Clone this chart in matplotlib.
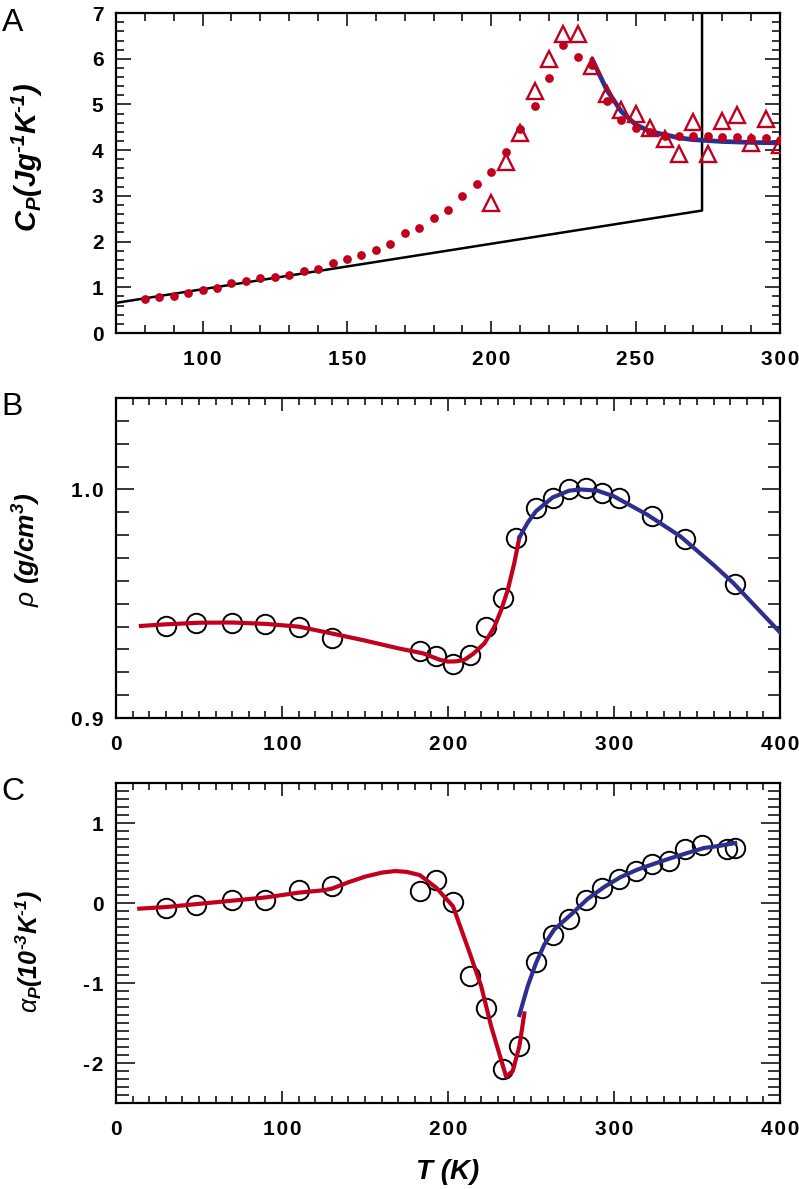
import matplotlib
matplotlib.use('Agg')
import matplotlib.pyplot as plt
from matplotlib.ticker import MultipleLocator, FuncFormatter

plt.rcParams['font.family'] = 'Liberation Sans'
plt.rcParams['font.weight'] = 'bold'
plt.rcParams['axes.unicode_minus'] = False
plt.rcParams['mathtext.fontset'] = 'custom'
plt.rcParams['mathtext.rm'] = 'Liberation Sans:slant=italic:weight=bold'
plt.rcParams['mathtext.it'] = 'Liberation Sans:slant=italic:weight=normal'
plt.rcParams['mathtext.bf'] = 'Liberation Sans:slant=italic:weight=bold'

RED = '#C0001C'
BLUE = '#2E2F8C'

# ---- panel A: heat capacity ----
cp_T = [80, 85, 90, 95, 100, 105, 110, 115, 120, 125, 130, 135, 140, 145, 150, 155, 160, 165,
        170, 175, 180, 185, 190, 195, 200, 205, 210, 215, 220, 225, 230, 235, 240, 245, 250,
        255, 260, 265, 270, 275, 280, 285, 290, 295, 300]
cp_dots = [0.75, 0.78, 0.82, 0.875, 0.95, 0.98, 1.09, 1.13, 1.20, 1.23, 1.28, 1.36, 1.40, 1.53,
           1.62, 1.70, 1.81, 1.95, 2.19, 2.30, 2.52, 2.70, 2.99, 3.27, 3.52, 3.96, 4.46, 4.97,
           5.59, 6.31, 6.05, 5.87, 5.07, 4.67, 4.49, 4.39, 4.32, 4.32, 4.32, 4.30, 4.29, 4.28,
           4.26, 4.26, 4.23]
tri_T = [200, 205, 210, 215, 220, 225, 230, 235, 240, 245, 250, 255, 260, 265, 270, 275, 280,
         285, 290, 295, 300]
tri_cp = [2.84, 3.74, 4.38, 5.29, 6.0, 6.54, 6.54, 5.85, 5.22, 4.89, 4.80, 4.49, 4.25, 3.92,
          4.61, 3.92, 4.63, 4.76, 4.16, 4.68, 4.11]
ice_T = [70, 273, 273]
ice_cp = [0.66, 2.68, 7.0]
fitA_T = [235, 240, 245, 250, 255, 260, 265, 270, 280, 290, 300]
fitA_cp = [5.98, 5.32, 4.85, 4.56, 4.41, 4.34, 4.27, 4.23, 4.19, 4.17, 4.16]

# ---- panel B: density ----
rho_T = [30, 48, 70, 90, 110, 130, 183, 193, 203, 213, 223, 233, 241, 253, 263, 273, 283, 293,
         303, 323, 343, 373]
rho = [0.9403, 0.9417, 0.9414, 0.941, 0.940, 0.9352, 0.9294, 0.9273, 0.9235, 0.9276, 0.940,
       0.9526, 0.9788, 0.992, 0.9962, 1.0003, 1.0007, 0.9985, 0.9962, 0.9884, 0.9785, 0.9586]
rho_red_T = [15, 30, 50, 70, 90, 110, 130, 150, 170, 185, 195, 200, 205, 210, 215, 222, 228,
             232, 236, 240, 243]
rho_red = [0.9403, 0.9410, 0.9417, 0.9418, 0.9412, 0.9400, 0.9370, 0.9339, 0.9305, 0.9283,
           0.9255, 0.9247, 0.9248, 0.9255, 0.928, 0.9327, 0.940, 0.9472, 0.956, 0.968, 0.979]
rho_blue_T = [243, 248, 253, 263, 273, 280, 290, 300, 320, 340, 360, 372, 385, 400]
rho_blue = [0.979, 0.9855, 0.9905, 0.9965, 0.9995, 1.0, 0.9995, 0.997, 0.989, 0.9795, 0.967,
            0.959, 0.949, 0.9375]

# ---- panel C: thermal expansion ----
al_T = [30, 48, 70, 90, 110, 130, 183, 193, 203, 213, 223, 233, 243, 253, 263, 273, 283, 293,
        303, 313, 323, 333, 343, 353, 368, 373]
al = [-0.06, -0.02, 0.033, 0.033, 0.167, 0.208, 0.146, 0.283, 0.008, -0.917, -1.31, -2.08,
      -1.79, -0.74, -0.40, -0.20, 0.042, 0.19, 0.30, 0.40, 0.49, 0.53, 0.67, 0.73, 0.67, 0.69]
al_red_T = [14, 30, 50, 70, 90, 110, 125, 130, 140, 150, 160, 168, 175, 183, 193, 203, 213,
            220, 226, 232, 235, 239, 243, 246]
al_red = [-0.07, -0.05, -0.01, 0.03, 0.07, 0.13, 0.16, 0.18, 0.26, 0.33, 0.38, 0.40, 0.39,
          0.35, 0.19, -0.04, -0.62, -1.04, -1.54, -1.96, -2.17, -2.10, -1.79, -1.38]
al_blue_T = [243, 248, 253, 258, 264, 274, 284, 294, 304, 314, 324, 334, 344, 354, 364, 373]
al_blue = [-1.40, -1.04, -0.75, -0.52, -0.33, -0.146, 0.05, 0.20, 0.325, 0.417, 0.49, 0.56,
           0.625, 0.6875, 0.717, 0.75]


def spaced(fmt):
    # the original tick labels are set with loose letter spacing
    return FuncFormatter(lambda v, pos: '\u200a'.join(fmt % v))


def style(ax, xmaj, xmin, ymaj, ymin, xl, yl, yfmt='%d'):
    ax.xaxis.set_major_locator(MultipleLocator(xmaj))
    ax.xaxis.set_minor_locator(MultipleLocator(xmin))
    ax.yaxis.set_major_locator(MultipleLocator(ymaj))
    ax.yaxis.set_minor_locator(MultipleLocator(ymin))
    ax.xaxis.set_major_formatter(spaced('%d'))
    ax.yaxis.set_major_formatter(spaced(yfmt))
    for s in ax.spines.values():
        s.set_linewidth(1.6)
    ax.tick_params(which='both', direction='in', top=True, right=True, width=1.1,
                   labelsize=15)
    ax.tick_params(axis='x', which='major', length=xl[0], pad=12)
    ax.tick_params(axis='x', which='minor', length=xl[1])
    ax.tick_params(axis='y', which='major', length=yl[0], pad=9)
    ax.tick_params(axis='y', which='minor', length=yl[1])


fig = plt.figure(figsize=(7.99, 11.89), dpi=100)

axA = fig.add_axes([0.1452, 0.7199, 0.831, 0.2691])
axA.plot(fitA_T, fitA_cp, color=BLUE, lw=3.4, zorder=2)
axA.plot(ice_T, ice_cp, color='black', lw=1.8, zorder=1)
axA.plot(cp_T, cp_dots, 'o', color=RED, ms=6.3, mew=0, zorder=3)
axA.plot(tri_T, tri_cp, '^', mfc='none', mec=RED, ms=11.5, mew=1.7, zorder=4)
axA.set_xlim(70, 300)
axA.set_ylim(0, 7)
style(axA, 50, 10, 1, 0.2, (9, 6), (10.5, 6))

axB = fig.add_axes([0.1452, 0.3961, 0.831, 0.2691])
axB.plot(rho_T, rho, 'o', mfc='none', mec='black', ms=14, mew=1.4, zorder=2)
axB.plot(rho_red_T, rho_red, color=RED, lw=3, zorder=3)
axB.plot(rho_blue_T, rho_blue, color=BLUE, lw=3, zorder=3)
axB.set_xlim(0, 400)
axB.set_ylim(0.9, 1.04)
style(axB, 100, 10, 0.1, 0.01, (9, 5), (13, 9), yfmt='%.1f')

axC = fig.add_axes([0.1452, 0.0723, 0.831, 0.2691])
axC.plot(al_T, al, 'o', mfc='none', mec='black', ms=14, mew=1.4, zorder=2)
axC.plot(al_red_T, al_red, color=RED, lw=3, zorder=3)
axC.plot(al_blue_T, al_blue, color=BLUE, lw=3, zorder=3)
axC.set_xlim(0, 400)
axC.set_ylim(-2.5, 1.5)
style(axC, 100, 10, 1, 0.1, (9, 5), (14, 9))

# panel letters
for letter, ytop in [('A', 8), ('B', 392), ('C', 777)]:
    fig.text(0.002, 1 - ytop / 1189, letter, fontsize=23, fontweight='normal', va='top',
             ha='left')

# axis labels
fig.text(27 / 799, 1 - 157 / 1189, r'C$_\mathbf{P}$(Jg$^{\text{-1}}$K$^{\text{-1}}$)',
         rotation=90, ha='center', va='center', fontsize=21, style='italic', weight='bold')
fig.text(27 / 799, 1 - 550 / 1189, r'$\rho$ (g/cm$^{3}$)', rotation=90,
         ha='center', va='center', fontsize=19, style='italic', weight='bold')
fig.text(29 / 799, 1 - 951 / 1189, r'$\alpha_\mathbf{P}$(10$^{\text{-3}}$K$^{\text{-1}}$)',
         rotation=90, ha='center', va='center', fontsize=18, style='italic', weight='bold')
fig.text(448 / 799, 1 - 1172 / 1189, 'T (K)', ha='center', va='center', fontsize=20,
         style='italic', weight='bold')

fig.savefig('out.png', dpi=100)
